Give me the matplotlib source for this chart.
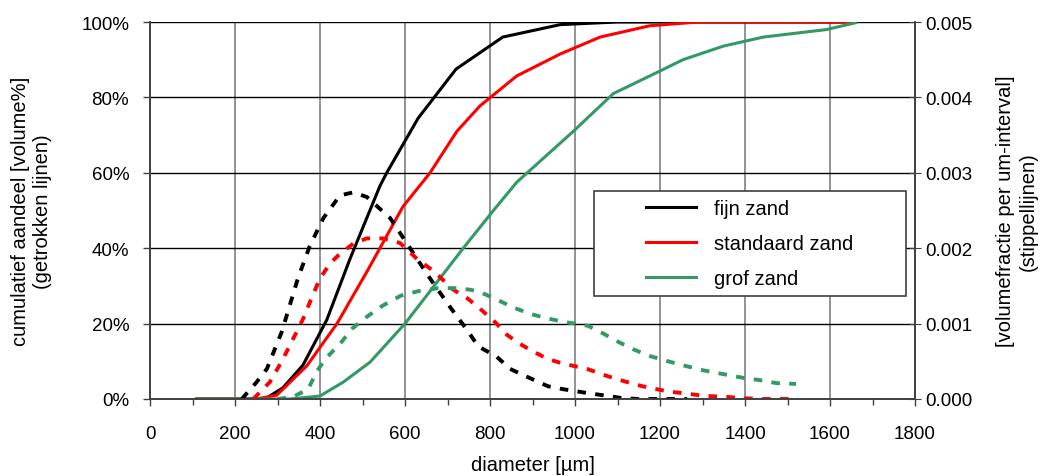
import numpy as np
import matplotlib
matplotlib.use("Agg")
from matplotlib import pyplot as plt
from matplotlib.patches import Rectangle
from matplotlib.ticker import MultipleLocator, FuncFormatter

plt.rcParams['font.family'] = ['Liberation Sans', 'DejaVu Sans']
plt.rcParams['font.size'] = 13.5

GREEN = '#339966'

# cumulative curves (solid), diameter in um, percent
fine_d = [110, 200, 250, 275, 313, 360, 416, 470, 541, 557, 631, 720, 830, 965, 1100, 1660]
fine_cum = [0, 0, 0, 0.3, 3, 9, 21, 37, 56.5, 60, 74.5, 87.5, 96, 99.3, 100, 100]

std_d = [110, 200, 250, 298, 369, 440, 510, 595, 659, 722, 776, 863, 965, 1059, 1176, 1290, 1660]
std_cum = [0, 0, 0, 1, 8.8, 20, 33.7, 51, 60, 71, 77.7, 85.7, 91.5, 96, 99, 100, 100]

grof_d = [110, 250, 330, 400, 455, 518, 600, 737, 808, 863, 996, 1090, 1200, 1254, 1349, 1443, 1592, 1660]
grof_cum = [0, 0, 0, 0.8, 4.5, 9.8, 20, 40, 50, 57.5, 71, 81, 87, 90, 93.6, 96, 98, 99.8]

# volume fraction per um interval (dashed)
fine_pd_d = [216, 251, 275, 310, 348, 376, 408, 447, 478, 510, 565, 612, 655, 706, 748, 772,
             816, 847, 889, 936, 972, 1028, 1078, 1113, 1150, 1264]
fine_pd = [0, 0.000225, 0.0004, 0.00089, 0.0016, 0.00203, 0.0024, 0.0027, 0.00274, 0.00268,
           0.0024, 0.002, 0.00163, 0.00122, 0.0009, 0.0007, 0.00056, 0.0004, 0.00029, 0.00017,
           0.00013, 0.00008, 0.00004, 0.00001, 0, 0]

std_pd_d = [243, 282, 310, 337, 360, 381, 400, 424, 442, 478, 510, 548, 588, 628, 671, 711,
            748, 776, 812, 840, 871, 898, 936, 972, 1028, 1078, 1113, 1158, 1219, 1264, 1306,
            1353, 1396, 1440, 1520]
std_pd = [0, 0.000225, 0.0005, 0.0008, 0.00106, 0.00135, 0.0016, 0.0018, 0.0019, 0.00206,
          0.00213, 0.00213, 0.00207, 0.00186, 0.00168, 0.00146, 0.00133, 0.0012, 0.00102,
          0.00085, 0.00073, 0.00064, 0.00053, 0.00047, 0.0004, 0.0003, 0.00024, 0.00017,
          0.0001, 0.00007, 0.00004, 0.00003, 0.00001, 0, 0]

grof_pd_d = [300, 337, 372, 392, 412, 447, 475, 510, 548, 590, 631, 678, 718, 753, 776, 812,
             852, 894, 934, 976, 1012, 1031, 1066, 1101, 1137, 1176, 1219, 1259, 1302, 1349,
             1396, 1435, 1475, 1520]
grof_pd = [0, 0.00003, 0.00013, 0.00036, 0.00053, 0.00073, 0.00093, 0.00109, 0.00124, 0.00137,
           0.00143, 0.00147, 0.00147, 0.00145, 0.00142, 0.00133, 0.00122, 0.00113, 0.00107,
           0.00102, 0.00099, 0.00097, 0.00087, 0.00076, 0.00066, 0.00057, 0.0005, 0.00044,
           0.00038, 0.00033, 0.00028, 0.00025, 0.00021, 0.0002]

labels = ['fijn zand', 'standaard zand', 'grof zand']

fig = plt.figure(figsize=(10.42, 4.77), dpi=100)
ax = fig.add_axes([150/1042, 77/477, 765/1042, 377/477])
ax2 = ax.twinx()

l1, = ax.plot(fine_d, fine_cum, color='black', lw=2.2)
l2, = ax.plot(std_d, std_cum, color='red', lw=2.2)
l3, = ax.plot(grof_d, grof_cum, color=GREEN, lw=2.2)

dash = (0, (2.2, 2.4))
ax2.plot(fine_pd_d, fine_pd, color='black', lw=2.8, ls=dash)
ax2.plot(std_pd_d, std_pd, color='red', lw=2.8, ls=dash)
ax2.plot(grof_pd_d, grof_pd, color=GREEN, lw=2.8, ls=dash)

ax.set_xlim(0, 1800)
ax.set_ylim(0, 100)
ax2.set_ylim(0, 0.005)
ax.xaxis.set_major_locator(MultipleLocator(200))
ax.xaxis.set_minor_locator(MultipleLocator(100))
ax.yaxis.set_major_locator(MultipleLocator(20))
ax2.yaxis.set_major_locator(MultipleLocator(0.001))
ax.yaxis.set_major_formatter(FuncFormatter(lambda v, p: '%d%%' % v))
ax2.yaxis.set_major_formatter(FuncFormatter(lambda v, p: '%.3f' % v))

ax.grid(axis='y', color='black', lw=1)
ax.grid(axis='x', color='#808080', lw=1.2)
ax.set_axisbelow(True)
for a in (ax, ax2):
    for s in a.spines.values():
        s.set_color('#404040')
        s.set_linewidth(1.2)
    a.spines['top'].set_visible(False)
ax.tick_params(which='both', direction='out', color='#404040', width=1)
ax.tick_params(which='major', length=5)
ax.tick_params(which='minor', length=4)
ax.tick_params(axis='y', pad=10)
ax.tick_params(axis='x', pad=14)
ax2.tick_params(direction='inout', length=8, color='#404040')

ax.set_xlabel('diameter [µm]', labelpad=9, fontsize=14.5)
ax.set_ylabel('cumulatief aandeel [volume%]\n(getrokken lijnen)', labelpad=21, fontsize=14.5)
ax2.set_ylabel('[volumefractie per um-interval]\n(stippellijnen)', labelpad=17, fontsize=14.5)

# legend frame
ax2.add_patch(Rectangle((444/765, 103/377), 312/765, 105/377, transform=ax2.transAxes,
                        facecolor='white', edgecolor='#404040', lw=1.2, zorder=5))
leg = ax2.legend([l1, l2, l3], labels, loc='center', bbox_to_anchor=(0.784, 0.4125),
                 frameon=False, handlelength=2.5, handletextpad=0.9, labelspacing=0.8,
                 fontsize=14.5)
leg.set_zorder(6)

fig.savefig('out.png', dpi=100)
